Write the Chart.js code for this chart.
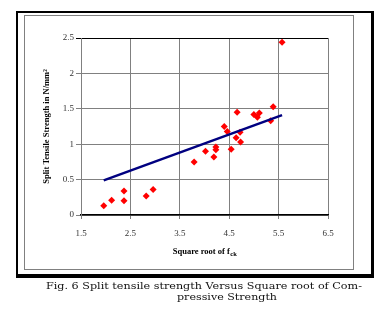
<!DOCTYPE html>
<html>
<head>
<meta charset="utf-8">
<script src="https://cdn.jsdelivr.net/npm/chart.js@4/dist/chart.umd.min.js"></script>
<style>
  html, body { margin: 0; padding: 0; background: #fff; }
  #wrap { position: relative; width: 374px; height: 325px; overflow: hidden; }
  #outer { position: absolute; left: 16px; top: 11px; width: 353px; height: 261px;
           border-left: 2px solid #000; border-top: 2px solid #000;
           border-right: 4px solid #000; border-bottom: 4px solid #000; }
  #inner { position: absolute; left: 24px; top: 15px; width: 328px; height: 253px;
           border: 1px solid #808080; }
  canvas { position: absolute; left: 0; top: 0; }
  .cap { position: absolute; font-family: "DejaVu Serif", "Liberation Serif", serif;
         font-size: 10px; color: #111; white-space: nowrap; line-height: 11px;
         transform-origin: 0 0; }
  #cap1 { left: 46px; top: 280px; }
  #cap2 { left: 177px; top: 291px; }
</style>
</head>
<body>
<div id="wrap">
  <div id="outer"></div>
  <div id="inner"></div>
  <canvas id="c" width="374" height="325"></canvas>
  <span class="cap" id="cap1">Fig. 6 Split tensile strength Versus Square root of Com-</span>
  <span class="cap" id="cap2">pressive Strength</span>
</div>
<script>
// Square root of characteristic compressive strength vs split tensile strength
const sqrtFck = [1.96, 2.12, 2.37, 2.37, 2.82, 2.96, 3.79, 4.02, 4.19, 4.23, 4.23, 4.40,
                 4.46, 4.54, 4.64, 4.66, 4.72, 4.73, 5.00, 5.07, 5.11, 5.34, 5.39, 5.57];
const splitTensile = [0.13, 0.21, 0.34, 0.20, 0.27, 0.36, 0.75, 0.90, 0.82, 0.96, 0.92, 1.25,
                      1.18, 0.93, 1.09, 1.45, 1.17, 1.03, 1.42, 1.38, 1.44, 1.33, 1.53, 2.44];
// Fitted trend line end points
const trendX = [1.96, 5.57];
const trendY = [0.49, 1.41];
// Axis ranges and steps
const xTicks = [1.5, 2.5, 3.5, 4.5, 5.5, 6.5];
const yTicks = [0, 0.5, 1, 1.5, 2, 2.5];

const serif = '"Liberation Serif", "Times New Roman", serif';

// Caption lines are stretched horizontally to their column widths
function fitCaption(id, width) {
  const el = document.getElementById(id);
  const w = el.getBoundingClientRect().width;
  el.style.transform = 'scaleX(' + (width / w) + ')';
}
fitCaption('cap1', 316);
fitCaption('cap2', 100);

const points = sqrtFck.map((x, i) => ({ x, y: splitTensile[i] }));
const trend = trendX.map((x, i) => ({ x, y: trendY[i] }));

// x-axis title with subscript "ck"
const xTitlePlugin = {
  id: 'xTitle',
  afterDraw(chart) {
    const { ctx, chartArea } = chart;
    const main = 'Square root of f';
    const sub = 'ck';
    ctx.save();
    ctx.fillStyle = '#000';
    ctx.textBaseline = 'alphabetic';
    ctx.font = 'bold 8.5px ' + serif;
    const w1 = ctx.measureText(main).width;
    ctx.font = 'bold 6.5px ' + serif;
    const w2 = ctx.measureText(sub).width;
    const cx = (chartArea.left + chartArea.right) / 2;
    const x0 = cx - (w1 + w2) / 2;
    const base = 254;
    ctx.font = 'bold 8.5px ' + serif;
    ctx.fillText(main, x0, base);
    ctx.font = 'bold 6.5px ' + serif;
    ctx.fillText(sub, x0 + w1 + 0.5, base + 2);
    ctx.restore();
  }
};

new Chart(document.getElementById('c'), {
  type: 'scatter',
  data: {
    datasets: [
      {
        label: 'Split tensile strength',
        data: points,
        pointStyle: 'rectRot',
        pointRadius: 3.5,
        pointBackgroundColor: '#ff0000',
        pointBorderColor: '#ff0000',
        pointBorderWidth: 0,
        showLine: false,
        order: 2
      },
      {
        label: 'Trend',
        data: trend,
        showLine: true,
        borderColor: '#000080',
        borderWidth: 2.5,
        pointRadius: 0,
        fill: false,
        order: 1
      }
    ]
  },
  options: {
    responsive: false,
    animation: false,
    layout: { padding: { left: 42, top: 38, right: 46, bottom: 68 } },
    plugins: { legend: { display: false }, tooltip: { enabled: false } },
    scales: {
      x: {
        type: 'linear',
        min: xTicks[0],
        max: xTicks[xTicks.length - 1],
        afterBuildTicks(scale) { scale.ticks = xTicks.map(v => ({ value: v })); },
        afterFit(scale) { scale.height = 42; },
        grid: { color: '#808080', lineWidth: 1, tickLength: 4 },
        border: { color: '#000', width: 1.5 },
        ticks: {
          color: '#333',
          font: { family: serif, size: 9 },
          padding: 9,
          maxRotation: 0,
          callback: v => v.toString()
        }
      },
      y: {
        type: 'linear',
        min: yTicks[0],
        max: yTicks[yTicks.length - 1],
        afterBuildTicks(scale) { scale.ticks = yTicks.map(v => ({ value: v })); },
        afterFit(scale) { scale.width = 39; },
        grid: {
          color: ctx => (ctx.tick && ctx.tick.value === 2.5 ? '#000' : '#808080'),
          lineWidth: 1,
          tickLength: 5
        },
        border: { color: '#808080', width: 1 },
        ticks: {
          color: '#333',
          font: { family: serif, size: 9 },
          padding: 2,
          callback: v => v.toString()
        },
        title: {
          display: true,
          text: 'Split Tensile Strength in N/mm\u00B2',
          color: '#000',
          font: { family: serif, size: 8.5, weight: 'bold' },
          padding: 0
        }
      }
    }
  },
  plugins: [xTitlePlugin]
});
</script>
</body>
</html>
